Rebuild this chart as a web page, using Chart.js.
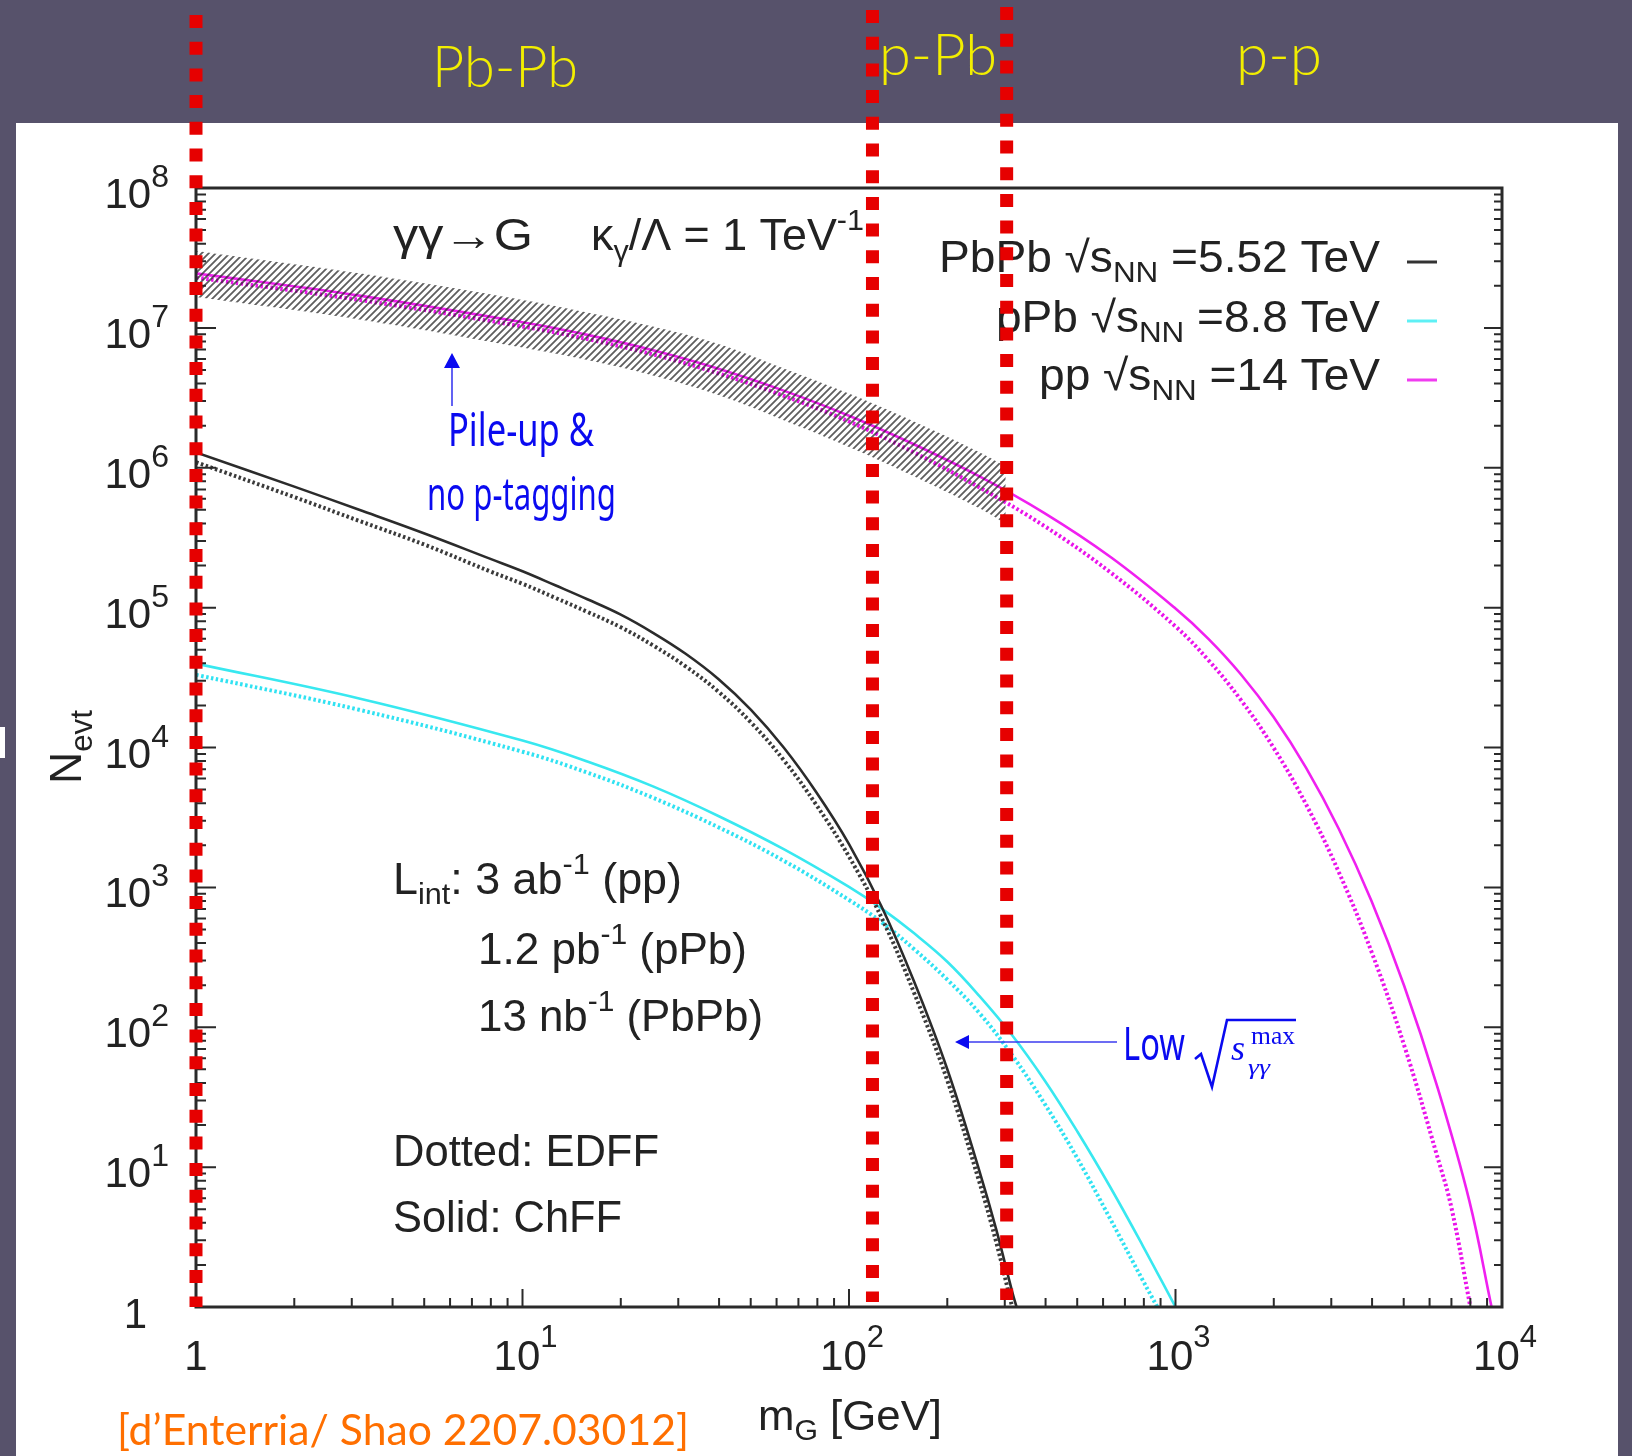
<!DOCTYPE html>
<html>
<head>
<meta charset="utf-8">
<script src="https://cdn.jsdelivr.net/npm/chart.js@4.4.1/dist/chart.umd.min.js"></script>
<style>
  html, body { margin: 0; padding: 0; background: #57526b; }
  #wrap { position: relative; width: 1632px; height: 1456px; overflow: hidden; background: #57526b; }
  #panel { position: absolute; left: 16px; top: 123px; width: 1602px; height: 1333px; background: #fff; }
  #nick { position: absolute; left: 0; top: 727px; width: 5px; height: 31px; background: #fff; }
  canvas { position: absolute; left: 0; top: 0; }
</style>
</head>
<body>
<div id="wrap">
  <div id="panel"></div>
  <div id="nick"></div>
  <canvas id="c" width="1632" height="1456"></canvas>
</div>
<script>
// m_G [GeV] and N_evt (solid = ChFF, dotted = EDFF)
const massPbPb     = [1, 2, 3.16, 5.01, 7.94, 10, 12.6, 15.8, 20, 25.1, 31.6, 39.8, 50.1, 63.1, 79.4, 100, 126, 158, 200, 251, 282, 316, 326];
const pbpbChFF     = [1.288e6, 7.33e5, 5.01e5, 3.39e5, 2.24e5, 1.82e5, 1.445e5, 1.148e5, 8.91e4, 6.61e4, 4.68e4, 3.09e4, 1.86e4, 1.0e4, 4790, 2040, 724, 214, 50.1, 9.33, 3.63, 1.29, 1];
const massPbPbEDFF = [1, 2, 3.16, 5.01, 7.94, 10, 12.6, 15.8, 20, 25.1, 31.6, 39.8, 50.1, 63.1, 79.4, 100, 126, 158, 200, 251, 282, 316];
const pbpbEDFF     = [1.096e6, 6.17e5, 4.17e5, 2.82e5, 1.82e5, 1.48e5, 1.175e5, 9.33e4, 7.24e4, 5.37e4, 3.8e4, 2.51e4, 1.51e4, 8130, 3890, 1660, 603, 178, 41.7, 7.76, 2.95, 1];

const massPPb      = [1, 3.16, 10, 15.8, 25.1, 39.8, 63.1, 100, 126, 158, 200, 251, 316, 398, 501, 631, 794, 1000];
const ppbChFF      = [3.98e4, 2.24e4, 1.12e4, 7940, 5270, 3240, 1875, 1007, 705, 471, 294, 167, 87.7, 41.5, 17.9, 7.21, 2.74, 1];
const massPPbEDFF  = [1, 3.16, 10, 15.8, 25.1, 39.8, 63.1, 100, 126, 158, 200, 251, 316, 398, 501, 631, 794, 880];
const ppbEDFF      = [3.31e4, 1.86e4, 9330, 6610, 4370, 2690, 1550, 813, 562, 363, 219, 126, 63.1, 28.2, 11.5, 4.27, 1.55, 1];

const massPP       = [1, 3.16, 10, 15.8, 25.1, 39.8, 63.1, 100, 158, 251, 398, 631, 1000, 1259, 1585, 1995, 2512, 3162, 3981, 5012, 6310, 7943, 9290];
const ppChFF       = [2.455e7, 1.7e7, 1.096e7, 8.91e6, 6.92e6, 5.11e6, 3.56e6, 2.355e6, 1.472e6, 8.67e5, 4.72e5, 2.31e5, 9.86e4, 6.01e4, 3.34e4, 1.656e4, 7145, 2624, 802, 199, 38.8, 5.74, 1];
const massPPEDFF   = [1, 3.16, 10, 15.8, 25.1, 39.8, 63.1, 100, 158, 251, 398, 631, 1000, 1259, 1585, 1995, 2512, 3162, 3981, 5012, 6310, 7000, 8000];
const ppEDFF       = [2.29e7, 1.585e7, 1.023e7, 8.32e6, 6.46e6, 4.73e6, 3.27e6, 2.14e6, 1.288e6, 7.23e5, 3.81e5, 1.79e5, 7.33e4, 4.23e4, 2.19e4, 1.0e4, 3918, 1288, 348, 74.6, 12.3, 5.13, 1];

// pile-up / no p-tagging band for pp
const massBand     = [1, 3.16, 10, 15.8, 25.1, 39.8, 63.1, 100, 158, 251, 302];
const bandHigh     = [3.55e7, 2.455e7, 1.585e7, 1.29e7, 1.023e7, 7.67e6, 5.13e6, 3.39e6, 2.14e6, 1.29e6, 1.02e6];
const bandLow      = [1.66e7, 1.148e7, 7.24e6, 5.89e6, 4.57e6, 3.31e6, 2.19e6, 1.41e6, 8.71e5, 5.13e5, 3.98e5];

// red region boundaries (GeV)
const regionEdges  = [1, 118, 304];

const xTickValues  = [1, 10, 100, 1000, 10000];
const xTickLabels  = [["1", ""], ["10", "1"], ["10", "2"], ["10", "3"], ["10", "4"]];
const yTickValues  = [1, 10, 100, 1000, 1e4, 1e5, 1e6, 1e7, 1e8];
const yTickLabels  = [["1", ""], ["10", "1"], ["10", "2"], ["10", "3"], ["10", "4"], ["10", "5"], ["10", "6"], ["10", "7"], ["10", "8"]];

const FONT = "'Liberation Sans', Arial, sans-serif";

function pts(xs, ys) { return xs.map((x, i) => ({x: x, y: ys[i]})); }

function hatchPattern(ctx) {
    const c = document.createElement("canvas");
    c.width = 7; c.height = 7;
    const g = c.getContext("2d");
    g.strokeStyle = "rgba(40,40,40,0.75)";
    g.lineWidth = 1.8;
    g.beginPath();
    g.moveTo(0, 7); g.lineTo(7, 0);
    g.moveTo(-1, 1); g.lineTo(1, -1);
    g.moveTo(6, 8); g.lineTo(8, 6);
    g.stroke();
    return ctx.createPattern(c, "repeat");
}

// parts: [text, size, dy, style, family]
function rich(ctx, parts, x, y, align, width) {
    let w = 0;
    const fontOf = p => (p[3] || "") + " " + p[1] + "px " + (p[4] || FONT);
    for (const p of parts) { ctx.font = fontOf(p); w += ctx.measureText(p[0]).width; }
    const sx = width ? width / w : 1;
    let x0 = x;
    if (align === "right") x0 = x - w * sx;
    else if (align === "center") x0 = x - w * sx / 2;
    ctx.save();
    ctx.translate(x0, y);
    ctx.scale(sx, 1);
    ctx.textAlign = "left";
    ctx.textBaseline = "alphabetic";
    let cx = 0;
    for (const p of parts) {
        ctx.font = fontOf(p);
        ctx.fillText(p[0], cx, p[2] || 0);
        cx += ctx.measureText(p[0]).width;
    }
    ctx.restore();
}

const frame = {
    id: "frame",
    afterDatasetsDraw(chart) {
        const {ctx, chartArea: a, scales: {x, y}} = chart;
        ctx.save();
        ctx.strokeStyle = "#2a2a2a";
        ctx.lineWidth = 2;
        ctx.beginPath();
        for (let d = 0; d < 4; d++) {
            for (let k = 1; k <= 9; k++) {
                const px = x.getPixelForValue(k * Math.pow(10, d));
                const len = k === 1 ? 18 : 9;
                ctx.moveTo(px, a.bottom); ctx.lineTo(px, a.bottom - len);
            }
        }
        for (let d = 0; d < 8; d++) {
            for (let k = 1; k <= 9; k++) {
                const py = y.getPixelForValue(k * Math.pow(10, d));
                const len = k === 1 ? 20 : 10;
                ctx.moveTo(a.left, py); ctx.lineTo(a.left + len, py);
                ctx.moveTo(a.right, py); ctx.lineTo(a.right - len + 2, py);
            }
        }
        ctx.stroke();
        ctx.lineWidth = 3;
        ctx.strokeRect(a.left, a.top, a.right - a.left, a.bottom - a.top);

        // tick labels
        ctx.fillStyle = "#222";
        xTickValues.forEach((v, i) => {
            const px = x.getPixelForValue(v);
            const [b, s] = xTickLabels[i];
            const parts = s ? [[b, 42, 0], [s, 31, -23]] : [[b, 42, 0]];
            rich(ctx, parts, px + (s ? 3 : 0), a.bottom + 63, "center");
        });
        yTickValues.forEach((v, i) => {
            const py = y.getPixelForValue(v);
            const [b, s] = yTickLabels[i];
            if (s) rich(ctx, [[b, 42, 0], [s, 32, -21]], 169, py + 20, "right");
            else rich(ctx, [[b, 42, 0]], 147, py + 21, "right");
        });

        // axis titles
        rich(ctx, [["m", 42, 0], ["G", 29, 10], [" [GeV]", 42, 0]], 758, 1430, "left", 184);
        ctx.save();
        ctx.translate(81, 747);
        ctx.rotate(-Math.PI / 2);
        rich(ctx, [["N", 44, 0], ["evt", 31, 11]], 0, 0, "center", 74);
        ctx.restore();

        // in-plot texts
        rich(ctx, [["γγ→G", 44, 0]], 393, 250, "left", 140);
        rich(ctx, [["κ", 44, 0], ["γ", 30, 11], ["/Λ = 1 TeV", 44, 0], ["-1", 30, -20]], 591, 250, "left", 273);
        rich(ctx, [["PbPb √s", 44, 0], ["NN", 30, 10], [" =5.52 TeV", 44, 0]], 1380, 272, "right", 441);
        rich(ctx, [["pPb √s", 44, 0], ["NN", 30, 10], [" =8.8 TeV", 44, 0]], 1380, 332, "right", 384);
        rich(ctx, [["pp √s", 44, 0], ["NN", 30, 10], [" =14 TeV", 44, 0]], 1380, 390, "right", 341);
        rich(ctx, [["L", 44, 0], ["int", 30, 10], [": 3 ab", 44, 0], ["-1", 30, -20], [" (pp)", 44, 0]], 393, 894, "left", 289);
        rich(ctx, [["1.2 pb", 44, 0], ["-1", 30, -20], [" (pPb)", 44, 0]], 478, 964, "left", 269);
        rich(ctx, [["13 nb", 44, 0], ["-1", 30, -20], [" (PbPb)", 44, 0]], 478, 1031, "left", 285);
        rich(ctx, [["Dotted: EDFF", 44, 0]], 393, 1166, "left", 266);
        rich(ctx, [["Solid: ChFF", 44, 0]], 393, 1232, "left", 229);

        // legend samples
        ctx.lineWidth = 3;
        [["#333", 262], ["#5ef0f5", 321], ["#f03cf0", 380]].forEach(([c, yy]) => {
            ctx.strokeStyle = c;
            ctx.beginPath(); ctx.moveTo(1407, yy); ctx.lineTo(1437, yy); ctx.stroke();
        });

        // blue notes
        ctx.fillStyle = "#0a0af0";
        ctx.strokeStyle = "#3c3cf0";
        rich(ctx, [["Pile-up &", 46, 0, "", "'Noto Sans', sans-serif"]], 448, 446, "left", 146);
        rich(ctx, [["no p-tagging", 46, 0, "", "'Noto Sans', sans-serif"]], 427, 510, "left", 189);
        rich(ctx, [["Low", 46, 0, "", "'Noto Sans', sans-serif"]], 1123, 1060, "left", 62);
        ctx.lineWidth = 1.6;
        ctx.beginPath();
        ctx.moveTo(452, 406); ctx.lineTo(452, 364);
        ctx.moveTo(1117, 1042); ctx.lineTo(966, 1042);
        ctx.stroke();
        ctx.beginPath();
        ctx.moveTo(452, 353); ctx.lineTo(444, 368); ctx.lineTo(460, 368); ctx.closePath();
        ctx.moveTo(955, 1042); ctx.lineTo(969, 1035); ctx.lineTo(969, 1049); ctx.closePath();
        ctx.fill();
        ctx.strokeStyle = "#0a0af0";
        ctx.lineWidth = 2.6;
        ctx.beginPath();
        ctx.moveTo(1195, 1059); ctx.lineTo(1201, 1054); ctx.lineTo(1212, 1087);
        ctx.lineTo(1227, 1020); ctx.lineTo(1296, 1020);
        ctx.stroke();
        rich(ctx, [["s", 36, 0, "italic", "'Liberation Serif', serif"]], 1231, 1060, "left");
        rich(ctx, [["max", 25, 0, "", "'Liberation Serif', serif"]], 1251, 1044, "left", 44);
        rich(ctx, [["γγ", 22, 0, "italic", "'Liberation Serif', serif"]], 1248, 1074, "left", 22);

        // citation and collision labels
        ctx.fillStyle = "#ff6f00";
        rich(ctx, [["[d’Enterria/ Shao 2207.03012]", 42, 0, "", "Lato, sans-serif"]], 117, 1445, "left", 572);
        ctx.fillStyle = "#f2ee00";
        rich(ctx, [["Pb-Pb", 58, 0, "300", "Lato, sans-serif"]], 432, 87, "left", 146);
        rich(ctx, [["p-Pb", 58, 0, "300", "Lato, sans-serif"]], 879, 75, "left", 118);
        rich(ctx, [["p-p", 58, 0, "300", "Lato, sans-serif"]], 1236, 75, "left", 86);

        // red dashed region boundaries
        const spans = [[15, 1307], [10, 1302], [7, 1300]];
        ctx.strokeStyle = "#e60000";
        ctx.lineWidth = 13;
        ctx.setLineDash([13, 13.7]);
        regionEdges.forEach((v, i) => {
            const px = x.getPixelForValue(v);
            ctx.beginPath();
            ctx.moveTo(px, spans[i][0]); ctx.lineTo(px, spans[i][1]);
            ctx.stroke();
        });
        ctx.restore();
    }
};

const canvas = document.getElementById("c");
const ctx = canvas.getContext("2d");
const hatch = hatchPattern(ctx);

function curve(label, xs, ys, color, dotted, order) {
    return {
        label: label,
        data: pts(xs, ys),
        borderColor: color,
        borderWidth: dotted ? 4 : 2.6,
        borderDash: dotted ? [2.5, 2.5] : [],
        pointRadius: 0,
        fill: false,
        tension: 0.4,
        order: order
    };
}

new Chart(ctx, {
    type: "line",
    data: {
        datasets: [
            {
                label: "band high",
                data: pts(massBand, bandHigh),
                borderWidth: 0,
                pointRadius: 0,
                backgroundColor: hatch,
                fill: "+1",
                tension: 0.4,
                order: 0
            },
            {
                label: "band low",
                data: pts(massBand, bandLow),
                borderWidth: 0,
                pointRadius: 0,
                fill: false,
                tension: 0.4,
                order: 0
            },
            curve("PbPb ChFF", massPbPb, pbpbChFF, "#2b2b2b", false, 2),
            curve("PbPb EDFF", massPbPbEDFF, pbpbEDFF, "#3a3a3a", true, 2),
            curve("pPb ChFF", massPPb, ppbChFF, "#38e8f0", false, 2),
            curve("pPb EDFF", massPPbEDFF, ppbEDFF, "#30e2f2", true, 2),
            curve("pp ChFF", massPP, ppChFF, "#f020f0", false, 3),
            curve("pp EDFF", massPPEDFF, ppEDFF, "#ea14ea", true, 3)
        ]
    },
    options: {
        responsive: false,
        animation: false,
        devicePixelRatio: 1,
        events: [],
        layout: { padding: { left: 196, right: 130, top: 188, bottom: 149 } },
        scales: {
            x: { type: "logarithmic", min: 1, max: 10000, display: false },
            y: { type: "logarithmic", min: 1, max: 1e8, display: false }
        },
        plugins: {
            legend: { display: false },
            tooltip: { enabled: false }
        }
    },
    plugins: [frame]
});
</script>
</body>
</html>
